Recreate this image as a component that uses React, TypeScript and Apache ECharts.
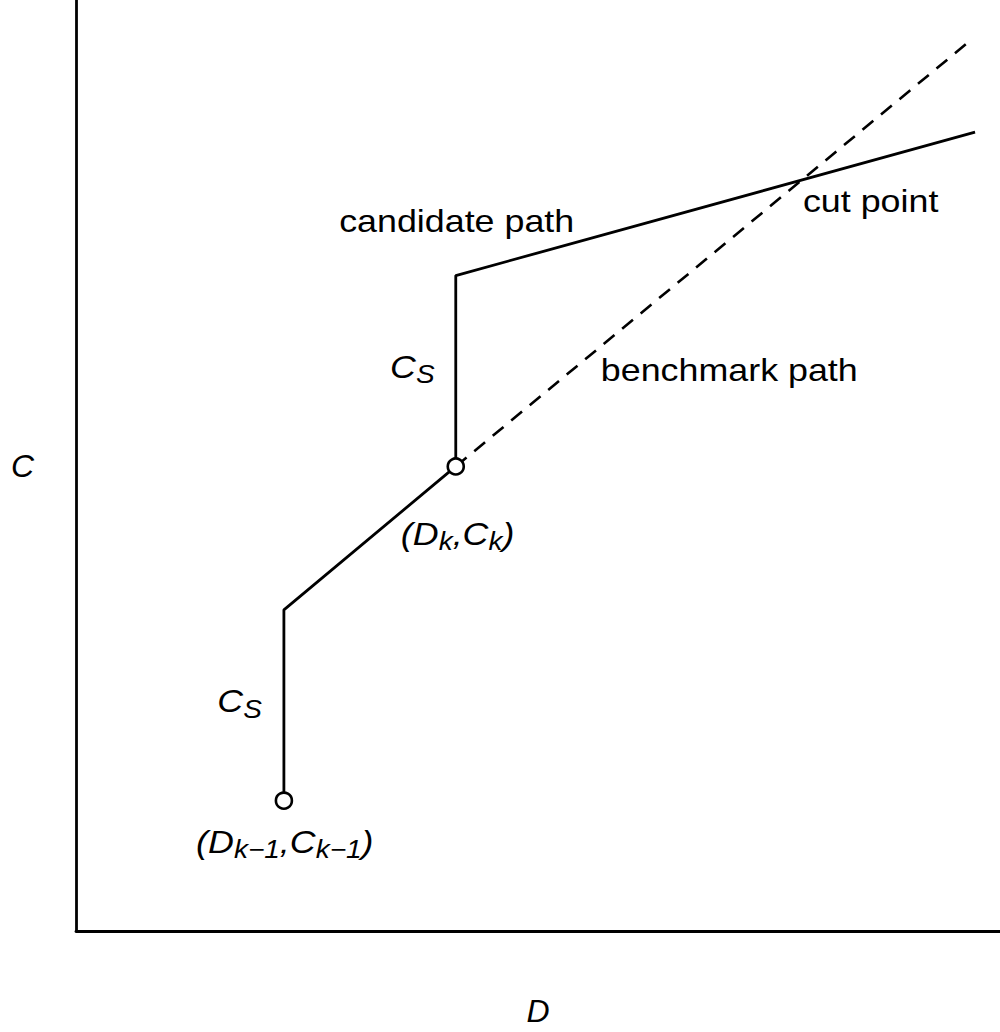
import React, { useEffect, useRef } from "react";
import * as echarts from "echarts";

// Candidate path (solid)
const candidateD = [2.25, 2.25, 4.11, 4.11, 9.73];
const candidateC = [1.4, 3.45, 4.99, 7.04, 8.58];
// Benchmark path (dashed)
const benchmarkD = [4.11, 9.71];
const benchmarkC = [4.99, 9.59];
// Marked points
const pointD = [2.25, 4.11];
const pointC = [1.4, 4.99];
// Annotations
const annotationTexts = [
  "candidate path",
  "benchmark path",
  "cut point",
  "{i|C}{s|S}",
  "{i|C}{s|S}",
  "{i|(D}{s|k}{i|,C}{s|k}{i|)}",
  "{i|(D}{s|k\u22121}{i|,C}{s|k\u22121}{i|)}",
];
const annotationD = [4.12, 7.07, 8.6, 3.64, 1.77, 4.13, 2.26];
const annotationC = [7.63, 6.03, 7.84, 6.06, 2.47, 4.27, 0.96];

const FONT = "'Liberation Sans', Arial, Helvetica, sans-serif";

export default function App() {
  const ref = useRef<HTMLDivElement>(null);
  useEffect(() => {
    if (!ref.current) return;
    const chart = echarts.init(ref.current, null, { renderer: "svg" });
    const axisCommon = {
      type: "value" as const,
      min: 0,
      max: 10,
      axisLine: { show: true, lineStyle: { color: "#000", width: 2.8 } },
      axisTick: { show: false },
      axisLabel: { show: false },
      splitLine: { show: false },
      nameLocation: "middle" as const,
      nameTextStyle: { fontSize: 32, fontStyle: "italic", fontFamily: FONT, color: "#000" },
    };
    chart.setOption({
      animation: false,
      backgroundColor: "#fff",
      grid: { left: 76, right: 0, top: 0, bottom: 95 },
      xAxis: { ...axisCommon, name: "D", nameGap: 64 },
      yAxis: { ...axisCommon, name: "C", nameGap: 42, nameRotate: 0 },
      series: [
        {
          type: "line",
          data: candidateD.map((d, i) => [d, candidateC[i]]),
          symbol: "none",
          lineStyle: { color: "#000", width: 2.8 },
          z: 2,
        },
        {
          type: "line",
          data: benchmarkD.map((d, i) => [d, benchmarkC[i]]),
          symbol: "none",
          lineStyle: { color: "#000", width: 2.6, type: [14, 10] },
          z: 2,
        },
        {
          type: "scatter",
          data: pointD.map((d, i) => [d, pointC[i]]),
          symbol: "circle",
          symbolSize: 16,
          itemStyle: { color: "#fff", borderColor: "#000", borderWidth: 2.6, opacity: 1 },
          z: 3,
        },
      ],
    });
    const graphics = annotationTexts.map((t, i) => {
      const [px, py] = chart.convertToPixel({ gridIndex: 0 }, [annotationD[i], annotationC[i]]) as number[];
      return {
        type: "text",
        x: px,
        y: py,
        scaleX: 1.12,
        z: 10,
        style: {
          text: t,
          fontSize: 32,
          fontFamily: FONT,
          fill: "#000",
          align: "center",
          verticalAlign: "middle",
          rich: {
            i: { fontSize: 32, fontStyle: "italic", fontFamily: FONT, fill: "#000" },
            s: { fontSize: 25, fontStyle: "italic", fontFamily: FONT, fill: "#000", padding: [16, 0, 0, 0] },
          },
        },
      };
    });
    chart.setOption({ graphic: graphics });
    return () => chart.dispose();
  }, []);
  return (
    <div
      ref={ref}
      style={{ position: "absolute", left: 0, top: 0, width: 1000, height: 1032 }}
    />
  );
}
